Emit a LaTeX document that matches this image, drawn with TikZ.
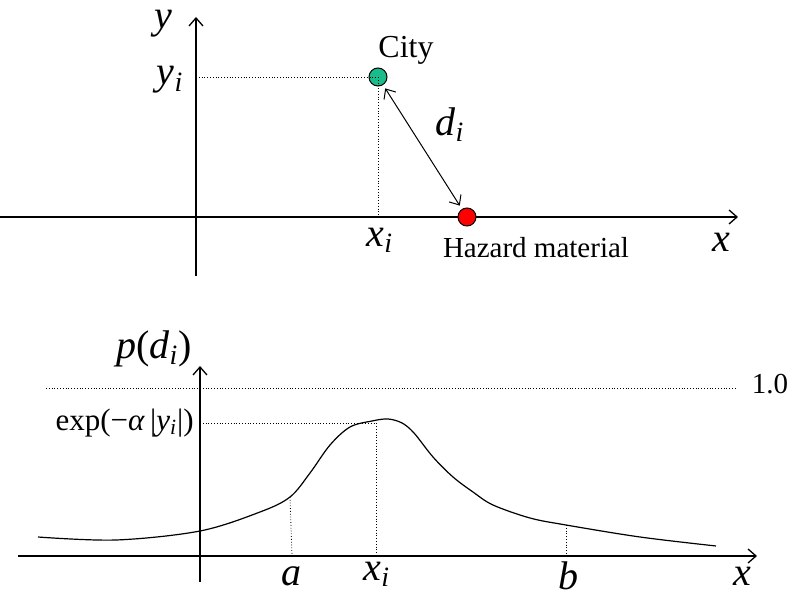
\documentclass[tikz,border=0pt]{standalone}
\usepackage{fontspec}
\setmainfont{Liberation Serif}
\usepackage{tikz}
\usetikzlibrary{arrows.meta,positioning}
\definecolor{citygreen}{HTML}{1ABC8C}
\definecolor{hazardred}{HTML}{FF0000}
\newcommand{\ivar}[1]{\textit{#1}}
\newcommand{\isub}[2]{\textit{#1}\textsubscript{\textit{#2}}}

\begin{document}
\begin{tikzpicture}[x=0.5pt,y=-0.5pt,
  axis/.style={line width=0.65pt,-{Straight Barb[length=4pt,width=7pt]}},
  guide/.style={densely dotted,line width=0.4pt},
  varlabel/.style={font=\fontsize{20}{24}\selectfont},
  txtlabel/.style={font=\fontsize{14.5}{17}\selectfont},
  dot/.style={circle,draw,line width=0.5pt,minimum size=9pt,inner sep=0pt}]
\useasboundingbox (0,0) rectangle (792,598);
% upper plot: positions
\coordinate (tx0) at (0,217);
\coordinate (tx1) at (738,217);
\coordinate (ty0) at (196,276);
\coordinate (ty1) at (196,17);
\draw[axis] (tx0) -- (tx1);
\draw[axis] (ty0) -- (ty1);
\node[dot,fill=citygreen] (city) at (378,77) {};
\node[dot,fill=hazardred] (hazard) at (467,217) {};
\draw[guide] (ty1 |- city) -- (city.center) -- (city.center |- tx0);
\draw[line width=0.5pt,{Straight Barb[length=4pt,width=7pt]}-{Straight Barb[length=4pt,width=7pt]},
  shorten <=2pt,shorten >=2pt] (city) -- (hazard);
\node[varlabel,inner sep=0.5pt] (ylab) at (163,24) {\ivar{y}};
\node[varlabel] (yilab) at (170,80) {\isub{y}{i}};
\node[txtlabel,font=\fontsize{16}{19}\selectfont] (citylab) at (406,50) {City};
\node[varlabel] (dlab) at (450,125) {\isub{d}{i}};
\node[varlabel] (xilab) at (380,240) {\isub{x}{i}};
\node[txtlabel] (hazlab) at (536,248) {Hazard material};
\node[varlabel] (xlab) at (721,242) {\ivar{x}};
% lower plot: probability
\coordinate (bx0) at (18,556);
\coordinate (bx1) at (757,556);
\coordinate (by0) at (200,582);
\coordinate (by1) at (200,366);
\draw[axis] (bx0) -- (bx1);
\draw[axis] (by0) -- (by1);
\draw[guide] (46,388) -- (735,388);
\node[txtlabel] (onelab) at (770,384) {1.0};
\node[varlabel] (plab) at (154,349) {\ivar{p}(\isub{d}{i})};
\node[txtlabel,font=\fontsize{15.5}{18}\selectfont,anchor=east,inner sep=1pt] (explab) at (196,423) {exp(−\textit{α}\,|\isub{y}{i}|)};
\draw[line width=0.6pt] plot[smooth,tension=0.55] coordinates {(38,537) (116,540) (200,531)
  (260,512) (290,497) (310,473) (330,445) (350,427) (372,421) (388,419) (402,423)
  (414,433) (433,457) (453,477) (473,492) (493,505) (530,518) (566,525) (640,537) (716,546)};
\coordinate (ca) at (290,497);
\coordinate (cx) at (376,423);
\coordinate (cb) at (566,525);
\draw[guide] (by1 |- cx) -- (cx) -- (cx |- bx0);
\draw[guide] (ca) -- (292,556);
\draw[guide] (cb) -- (cb |- bx0);
\node[varlabel] (alab) at (291,576) {\ivar{a}};
\node[varlabel] (xilow) at (377,574) {\isub{x}{i}};
\node[varlabel] (blab) at (568,576) {\ivar{b}};
\node[varlabel] (xlow) at (742,576) {\ivar{x}};
\end{tikzpicture}
\end{document}
